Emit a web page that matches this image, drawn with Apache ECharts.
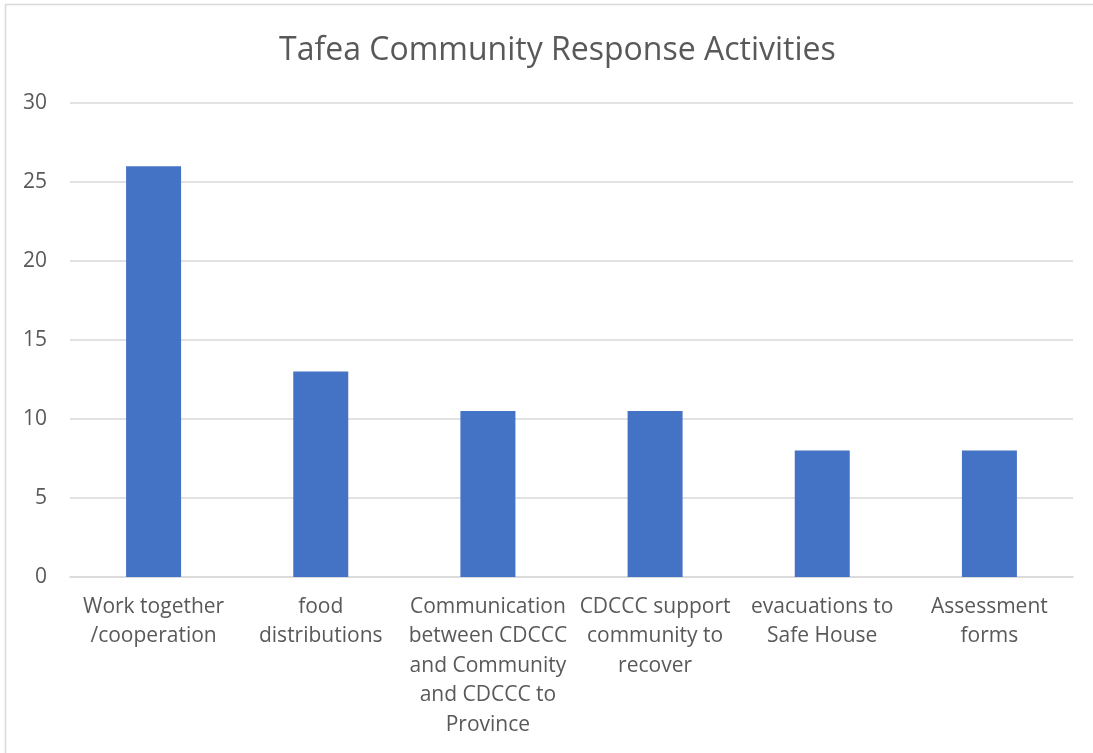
<!DOCTYPE html>
<html>
<head>
<meta charset="utf-8">
<script src="https://cdn.jsdelivr.net/npm/echarts@6/dist/echarts.min.js"></script>
<style>
  html, body { margin: 0; padding: 0; background: #ffffff; }
  #chart { width: 1093px; height: 753px; }
</style>
</head>
<body>
<div id="chart"></div>
<script>
// Activity categories (line breaks as shown under each bar)
const categories = [
  "Work together\n/cooperation",
  "food\ndistributions",
  "Communication\nbetween CDCCC\nand Community\nand CDCCC to\nProvince",
  "CDCCC support\ncommunity to\nrecover",
  "evacuations to\nSafe House",
  "Assessment\nforms"
];
// Number of responses per activity
const counts = [26, 13, 10.5, 10.5, 8, 8];
const yTicks = { min: 0, max: 30, interval: 5 };
const titleText = "Tafea Community Response Activities";

const textColor = "#595959";
const fontFamily = "'Open Sans', sans-serif";

const chart = echarts.init(document.getElementById("chart"), null, { renderer: "canvas" });
chart.setOption({
  backgroundColor: "#ffffff",
  animation: false,
  title: {
    text: titleText,
    left: 274,
    top: 30,
    textStyle: { color: textColor, fontSize: 32, fontWeight: "normal", fontFamily: fontFamily }
  },
  // chart frame (extends past the right and bottom edges of the canvas)
  graphic: [{
    type: "rect",
    shape: { x: 5.5, y: 4.5, width: 1200, height: 900 },
    style: { fill: "none", stroke: "#d9d9d9", lineWidth: 1.5 },
    silent: true
  }],
  grid: { left: 70, right: 20, top: 103, bottom: 176, containLabel: false },
  xAxis: {
    type: "category",
    data: categories,
    axisLine: { show: true, lineStyle: { color: "#d9d9d9", width: 1.5 } },
    axisTick: { show: false },
    axisLabel: {
      interval: 0,
      color: textColor,
      fontSize: 21,
      fontFamily: fontFamily,
      lineHeight: 29.5,
      margin: 15
    }
  },
  yAxis: {
    type: "value",
    min: yTicks.min,
    max: yTicks.max,
    interval: yTicks.interval,
    axisLine: { show: false },
    axisTick: { show: false },
    splitLine: { lineStyle: { color: "#d9d9d9", width: 1.5 } },
    axisLabel: { color: textColor, fontSize: 21, fontFamily: fontFamily, margin: 23 }
  },
  series: [{
    type: "bar",
    data: counts,
    barWidth: 55,
    itemStyle: { color: "#4472c4" }
  }]
});
</script>
</body>
</html>
